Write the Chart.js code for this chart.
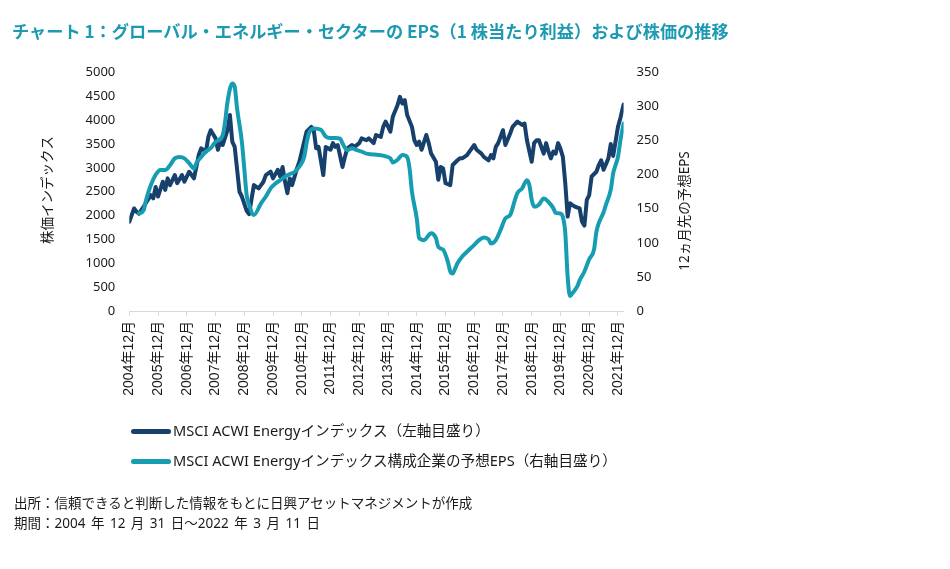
<!DOCTYPE html>
<html lang="ja">
<head>
<meta charset="utf-8">
<script src="https://cdn.jsdelivr.net/npm/chart.js@4.4.1/dist/chart.umd.min.js"></script>
<style>
  body { margin: 0; background: #fff; }
  #page { position: relative; width: 950px; height: 569px; overflow: hidden; font-family: 'Noto Sans', 'Noto Sans CJK JP', sans-serif; color: #1a1a1a; }
  #title { position: absolute; left: 12px; top: 18px; font-size: 17.2px; font-weight: bold; color: #1c9ab1; white-space: nowrap; font-family: 'Noto Sans CJK JP', sans-serif; }
  #chartBox { position: absolute; left: 0; top: 0; width: 950px; height: 569px; }
  .legend { position: absolute; left: 131px; font-size: 14.6px; white-space: nowrap; line-height: 18px; }
  .swatch { display: inline-block; width: 40px; height: 5px; border-radius: 3px; vertical-align: middle; margin-right: 2px; position: relative; top: -1px; }
  .note { position: absolute; left: 14px; font-size: 13.5px; white-space: nowrap; line-height: 18px; word-spacing: 2px; }
</style>
</head>
<body>
<div id="page">
  <div id="chartBox"><canvas id="chart"></canvas></div>
  <div id="title">チャート 1：グローバル・エネルギー・セクターの EPS（1 株当たり利益）および株価の推移</div>
  <div class="legend" style="top:421px"><span class="swatch" style="background:#17406d"></span>MSCI ACWI Energyインデックス（左軸目盛り）</div>
  <div class="legend" style="top:451px"><span class="swatch" style="background:#179db1"></span>MSCI ACWI Energyインデックス構成企業の予想EPS（右軸目盛り）</div>
  <div class="note" style="top:494px">出所：信頼できると判断した情報をもとに日興アセットマネジメントが作成</div>
  <div class="note" style="top:514px">期間：2004 年 12 月 31 日〜2022 年 3 月 11 日</div>
</div>
<script>
const navyColor = '#17406d';
const tealColor = '#179db1';

// MSCI ACWI Energy index (left axis), month-end readings
const indexDates = [
  '2004-12', '2005-02', '2005-03', '2005-04', '2005-06', '2005-09', '2005-10', '2005-11', '2005-12',
  '2006-02', '2006-03', '2006-04', '2006-05', '2006-07', '2006-08', '2006-10', '2006-11',
  '2007-01', '2007-03', '2007-05', '2007-06', '2007-08', '2007-09', '2007-10', '2007-12',
  '2008-01', '2008-02', '2008-03', '2008-05', '2008-06', '2008-07', '2008-08', '2008-10', '2008-11',
  '2009-01', '2009-02', '2009-04', '2009-06', '2009-08', '2009-09', '2009-11', '2009-12',
  '2010-02', '2010-03', '2010-04', '2010-05', '2010-06', '2010-07', '2010-08', '2010-10', '2010-11',
  '2011-01', '2011-02', '2011-04', '2011-05', '2011-06', '2011-07', '2011-09', '2011-10', '2011-12',
  '2012-01', '2012-02', '2012-03', '2012-05', '2012-06', '2012-07', '2012-09', '2012-10', '2012-12',
  '2013-01', '2013-03', '2013-04', '2013-06', '2013-07', '2013-09', '2013-10', '2013-11',
  '2014-01', '2014-02', '2014-04', '2014-05', '2014-06', '2014-07', '2014-08', '2014-10', '2014-11', '2014-12',
  '2015-01', '2015-02', '2015-04', '2015-05', '2015-06', '2015-08', '2015-09', '2015-10', '2015-11', '2015-12',
  '2016-02', '2016-03', '2016-05', '2016-06', '2016-07', '2016-09', '2016-10', '2016-12',
  '2017-01', '2017-03', '2017-04', '2017-06', '2017-07', '2017-08', '2017-09', '2017-10', '2017-12',
  '2018-01', '2018-03', '2018-04', '2018-06', '2018-08', '2018-09', '2018-10', '2018-12',
  '2019-01', '2019-02', '2019-03', '2019-05', '2019-06', '2019-07', '2019-08', '2019-09', '2019-10', '2019-11', '2019-12',
  '2020-01', '2020-02', '2020-03', '2020-04', '2020-05', '2020-06', '2020-08', '2020-09', '2020-10', '2020-11', '2020-12',
  '2021-01', '2021-03', '2021-04', '2021-05', '2021-06', '2021-08', '2021-09', '2021-10', '2021-12',
  '2022-01', '2022-03-11'
];
const indexValues = [
  1870, 2150, 2080, 2040, 2190, 2430, 2360, 2600, 2400,
  2710, 2540, 2780, 2640, 2850, 2680, 2850, 2710,
  2920, 2780, 3270, 3410, 3340, 3650, 3790, 3620,
  3380, 3580, 3480, 3790, 4110, 3550, 3440, 2500, 2400,
  2100, 2030, 2640, 2570, 2710, 2850, 2920, 2780,
  2960, 2820, 3020, 2710, 2470, 2780, 2640, 2990, 3130,
  3550, 3760, 3860, 3790, 3410, 3440, 2850, 3440, 3380,
  3520, 3440, 3480, 3020, 3230, 3410, 3480, 3440, 3520,
  3620, 3580, 3620, 3520, 3690, 3650, 3860, 3970,
  3760, 4070, 4320, 4490, 4350, 4420, 4110, 3860, 3580, 3480,
  3550, 3380, 3690, 3520, 3300, 3130, 2750, 3020, 2990, 2680,
  2640, 3060, 3160, 3200, 3200, 3270, 3340, 3480,
  3380, 3300, 3230, 3160, 3270, 3200, 3440, 3520, 3790,
  3480, 3720, 3860, 3970, 3900, 3930, 3580, 3130,
  3520, 3580, 3580, 3300, 3520, 3340, 3200, 3340, 3300, 3520, 3400,
  3230, 2680, 1980, 2260, 2220, 2190, 2150, 1870, 1790, 2330, 2430,
  2820, 2920, 3060, 3160, 2960, 3200, 3500, 3250, 3860,
  4040, 4330
];

// 12-month forward EPS of index constituents (right axis)
const epsDates = [
  '2005-04', '2005-06', '2005-07', '2005-09', '2005-11',
  '2006-01', '2006-03', '2006-05', '2006-07', '2006-09', '2006-11',
  '2007-01', '2007-03', '2007-04', '2007-06', '2007-08', '2007-10', '2007-12',
  '2008-03', '2008-04', '2008-05', '2008-07', '2008-08', '2008-09', '2008-11', '2008-12',
  '2009-01', '2009-02', '2009-04', '2009-07', '2009-09', '2009-11',
  '2010-01', '2010-03', '2010-05', '2010-07', '2010-09', '2010-11',
  '2011-01', '2011-02', '2011-03', '2011-05', '2011-08', '2011-10', '2011-12',
  '2012-02', '2012-04', '2012-05', '2012-07', '2012-09', '2012-11',
  '2013-01', '2013-03', '2013-05', '2013-08', '2013-11',
  '2014-01', '2014-02', '2014-04', '2014-06', '2014-08', '2014-09', '2014-10', '2014-12',
  '2015-01', '2015-03', '2015-06', '2015-08', '2015-09', '2015-11',
  '2016-01', '2016-02', '2016-03', '2016-04', '2016-05', '2016-07', '2016-09', '2016-12',
  '2017-02', '2017-04', '2017-06', '2017-07', '2017-09', '2017-11',
  '2018-01', '2018-03', '2018-05', '2018-06', '2018-08', '2018-10', '2018-11', '2018-12',
  '2019-01', '2019-03', '2019-05', '2019-07', '2019-09', '2019-10', '2019-12',
  '2020-01', '2020-02', '2020-03', '2020-04', '2020-05', '2020-07', '2020-08', '2020-10', '2020-12',
  '2021-02', '2021-03', '2021-04', '2021-06', '2021-07', '2021-09', '2021-10', '2021-11', '2021-12',
  '2022-01', '2022-03-11'
];
const epsValues = [
  143, 148, 163, 185, 200,
  207, 207, 214, 224, 226, 224,
  217, 209, 217, 226, 234, 239, 248,
  258, 278, 307, 334, 329, 297, 248, 209,
  170, 156, 141, 158, 168, 180,
  187, 192, 197, 201, 204, 212,
  226, 246, 261, 268, 266, 256, 254,
  254, 253, 246, 236, 239, 236,
  234, 231, 230, 229, 227,
  224, 218, 222, 229, 226, 209, 175, 136,
  107, 104, 114, 107, 94, 90,
  72, 58, 55, 62, 70, 80, 87, 97,
  104, 108, 105, 99, 104, 119,
  136, 141, 163, 173, 180, 192, 185, 163,
  153, 156, 165, 160, 151, 144, 143,
  138, 115, 50, 22, 26, 36, 45, 58, 76,
  90, 116, 129, 145, 156, 178, 202, 214, 226,
  250, 275
];

// x axis: one tick at every December (2004-2021)
const tickYears = [];
for (let y = 2004; y <= 2021; y++) tickYears.push(y);

// months counted from end of Dec 2004
function toMonth(s) {
  const [y, m, d] = s.split('-').map(Number);
  let v = (y - 2004) * 12 + (m - 12);
  if (d) v = v - 1 + d / 31;
  return v;
}

const lastMonth = toMonth('2022-03-11');
const textColor = '#1a1a1a';

const axisTitles = {
  id: 'axisTitles',
  afterDraw(chart) {
    const ctx = chart.ctx;
    ctx.save();
    ctx.fillStyle = textColor;
    ctx.font = "13.5px 'Noto Sans CJK JP', sans-serif";
    ctx.textAlign = 'center';
    ctx.textBaseline = 'middle';
    ctx.translate(47, 190);
    ctx.rotate(-Math.PI / 2);
    ctx.fillText('株価インデックス', 0, 0);
    ctx.restore();

    ctx.save();
    ctx.fillStyle = textColor;
    ctx.font = "13.5px 'Noto Sans', 'Noto Sans CJK JP', sans-serif";
    ctx.textAlign = 'center';
    ctx.textBaseline = 'middle';
    ctx.translate(685, 211);
    ctx.rotate(-Math.PI / 2);
    ctx.fillText('12ヵ月先の予想EPS', 0, 0);
    ctx.restore();
  }
};

new Chart(document.getElementById('chart'), {
  type: 'line',
  data: {
    datasets: [
      {
        label: 'MSCI ACWI Energyインデックス構成企業の予想EPS（右軸目盛り）',
        data: epsDates.map((d, i) => ({ x: toMonth(d), y: epsValues[i] })),
        yAxisID: 'yRight',
        borderColor: tealColor,
        borderWidth: 4,
        pointRadius: 0,
        cubicInterpolationMode: 'monotone',
        borderJoinStyle: 'round',
        borderCapStyle: 'round',
        order: 1
      },
      {
        label: 'MSCI ACWI Energyインデックス（左軸目盛り）',
        data: indexDates.map((d, i) => ({ x: toMonth(d), y: indexValues[i] })),
        yAxisID: 'yLeft',
        borderColor: navyColor,
        borderWidth: 4,
        pointRadius: 0,
        tension: 0,
        borderJoinStyle: 'round',
        borderCapStyle: 'round',
        order: 2
      }
    ]
  },
  options: {
    responsive: true,
    maintainAspectRatio: false,
    animation: false,
    layout: { padding: { top: 72.5, left: 0, right: 0, bottom: 0 } },
    plugins: {
      legend: { display: false },
      tooltip: { enabled: false }
    },
    scales: {
      x: {
        type: 'linear',
        min: 0,
        max: lastMonth,
        afterBuildTicks: scale => {
          scale.ticks = tickYears.map(y => ({ value: (y - 2004) * 12 }));
        },
        afterFit: scale => { scale.height = 258; },
        grid: { display: true, drawOnChartArea: false, drawTicks: true, tickLength: 5, color: '#d9d9d9' },
        border: { display: true, color: '#d9d9d9' },
        ticks: {
          autoSkip: false,
          minRotation: 90,
          maxRotation: 90,
          padding: 5,
          color: textColor,
          font: { family: "'Liberation Sans', 'Noto Sans CJK JP', sans-serif", size: 14 },
          callback: value => `${2004 + value / 12}年12月`
        }
      },
      yLeft: {
        position: 'left',
        min: 0,
        max: 5000,
        afterFit: scale => { scale.width = 129.3; },
        grid: { display: false, drawTicks: false },
        border: { display: false },
        ticks: {
          stepSize: 500,
          padding: 14,
          color: textColor,
          font: { family: "'Noto Sans', sans-serif", size: 13 },
          callback: value => String(value)
        }
      },
      yRight: {
        position: 'right',
        min: 0,
        max: 350,
        afterFit: scale => { scale.width = 950 - 623.6; },
        grid: { display: false, drawTicks: false },
        border: { display: false },
        ticks: {
          stepSize: 50,
          padding: 13,
          color: textColor,
          font: { family: "'Noto Sans', sans-serif", size: 13 },
          callback: value => String(value)
        }
      }
    }
  },
  plugins: [axisTitles]
});
</script>
</body>
</html>
